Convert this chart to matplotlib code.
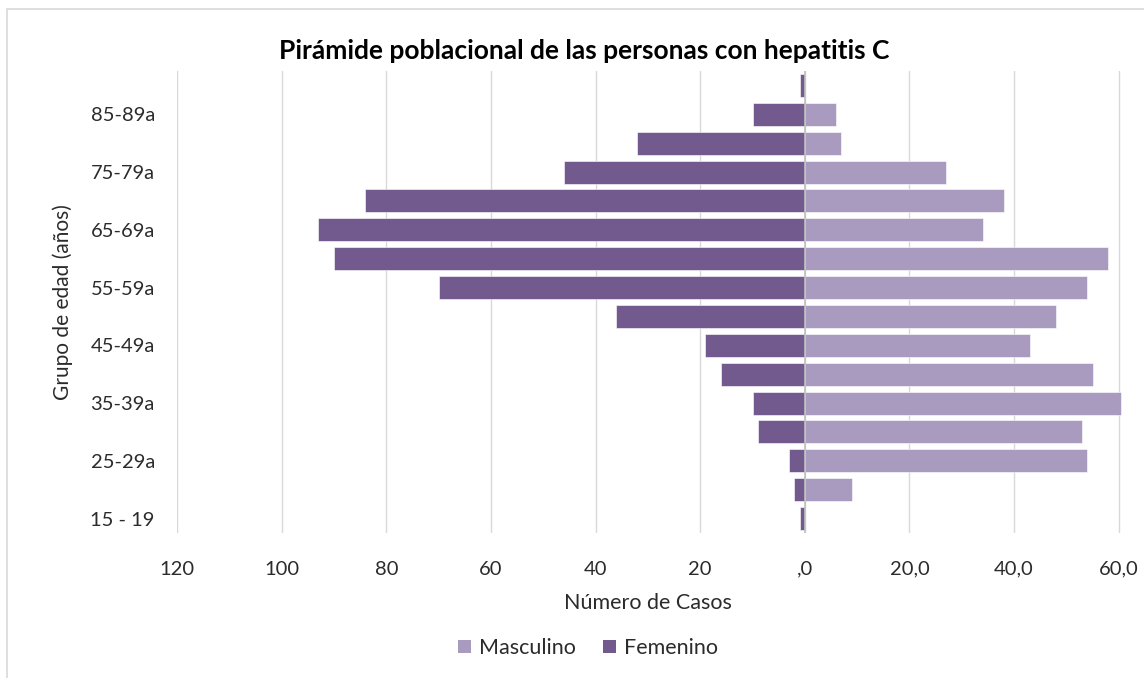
import numpy as np
import matplotlib.pyplot as plt
from matplotlib.ticker import FuncFormatter
from matplotlib.patches import Patch, Rectangle

plt.rcParams['font.family'] = ['Lato', 'DejaVu Sans']

# age groups, bottom to top
grupos = ["15 - 19", "20-24a", "25-29a", "30-34a", "35-39a", "40-44a", "45-49a",
          "50-54a", "55-59a", "60-64a", "65-69a", "70-74a", "75-79a", "80-84a",
          "85-89a", "90a y más"]
masculino = [0, 9, 54, 53, 60.5, 55, 43, 48, 54, 58, 34, 38, 27, 7, 6, 0]
femenino = [1, 2, 3, 9, 10, 16, 19, 36, 70, 90, 93, 84, 46, 32, 10, 1]

c_masc = "#a99abf"
c_fem = "#725a8e"
txt = "#2b2b2b"

W, H = 1144, 678
fig = plt.figure(figsize=(W / 100, H / 100), dpi=100)
ax = fig.add_axes([177/W, 1 - 533/H, (1124-177)/W, (533-71)/H])

y = np.arange(len(grupos))
ax.barh(y, masculino, height=0.8, color=c_masc, edgecolor="white", linewidth=0.4, label="Masculino", zorder=2)
ax.barh(y, [-v for v in femenino], height=0.8, color=c_fem, edgecolor="white", linewidth=0.4, label="Femenino", zorder=2)

ax.set_xlim(-120, 61)
ax.set_ylim(-0.5, len(grupos) - 0.5)
ax.set_xticks(np.arange(-120, 61, 20))

def fmt(v, pos):
    if v < 0:
        return f"{-v:.0f}"
    if v == 0:
        return ",0"
    return f"{v:.1f}".replace(".", ",")

ax.xaxis.set_major_formatter(FuncFormatter(fmt))
ax.set_yticks(y[::2])
ax.set_yticklabels(grupos[::2])

ax.grid(axis="x", color="#d9d9d9", linewidth=1, zorder=0)
ax.axvline(0, color="#bfbfbf", linewidth=1.2, zorder=3)
for s in ax.spines.values():
    s.set_visible(False)
ax.tick_params(length=0, labelsize=14.5, colors=txt)
ax.tick_params(axis="y", pad=16)
ax.tick_params(axis="x", pad=20)

fig.text(648/W, 1 - 603/H, "Número de Casos", ha="center", va="center", fontsize=15.5, color=txt)
fig.text(63/W, 1 - 302/H, "Grupo de edad (años)", ha="center", va="center", rotation=90,
         fontsize=15, color=txt)
fig.text(584/W, 1 - 51/H, "Pirámide poblacional de las personas con hepatitis C",
         ha="center", va="center", fontsize=19, fontweight="bold", color="black")

handles = [Patch(facecolor=c_masc, label="Masculino"), Patch(facecolor=c_fem, label="Femenino")]
fig.legend(handles=handles, loc="center", bbox_to_anchor=(588/W, 1 - 648/H), ncol=2,
           frameon=False, fontsize=15.5, handlelength=0.6, handleheight=0.6,
           handletextpad=0.35, columnspacing=1.3, labelcolor=txt)

fig.patches.append(Rectangle((7/W, -0.1), 1.2, 1 - 9/H + 0.1, transform=fig.transFigure,
                             fill=False, edgecolor="#d9d9d9", linewidth=1.2))

fig.savefig("out.png", dpi=100)
